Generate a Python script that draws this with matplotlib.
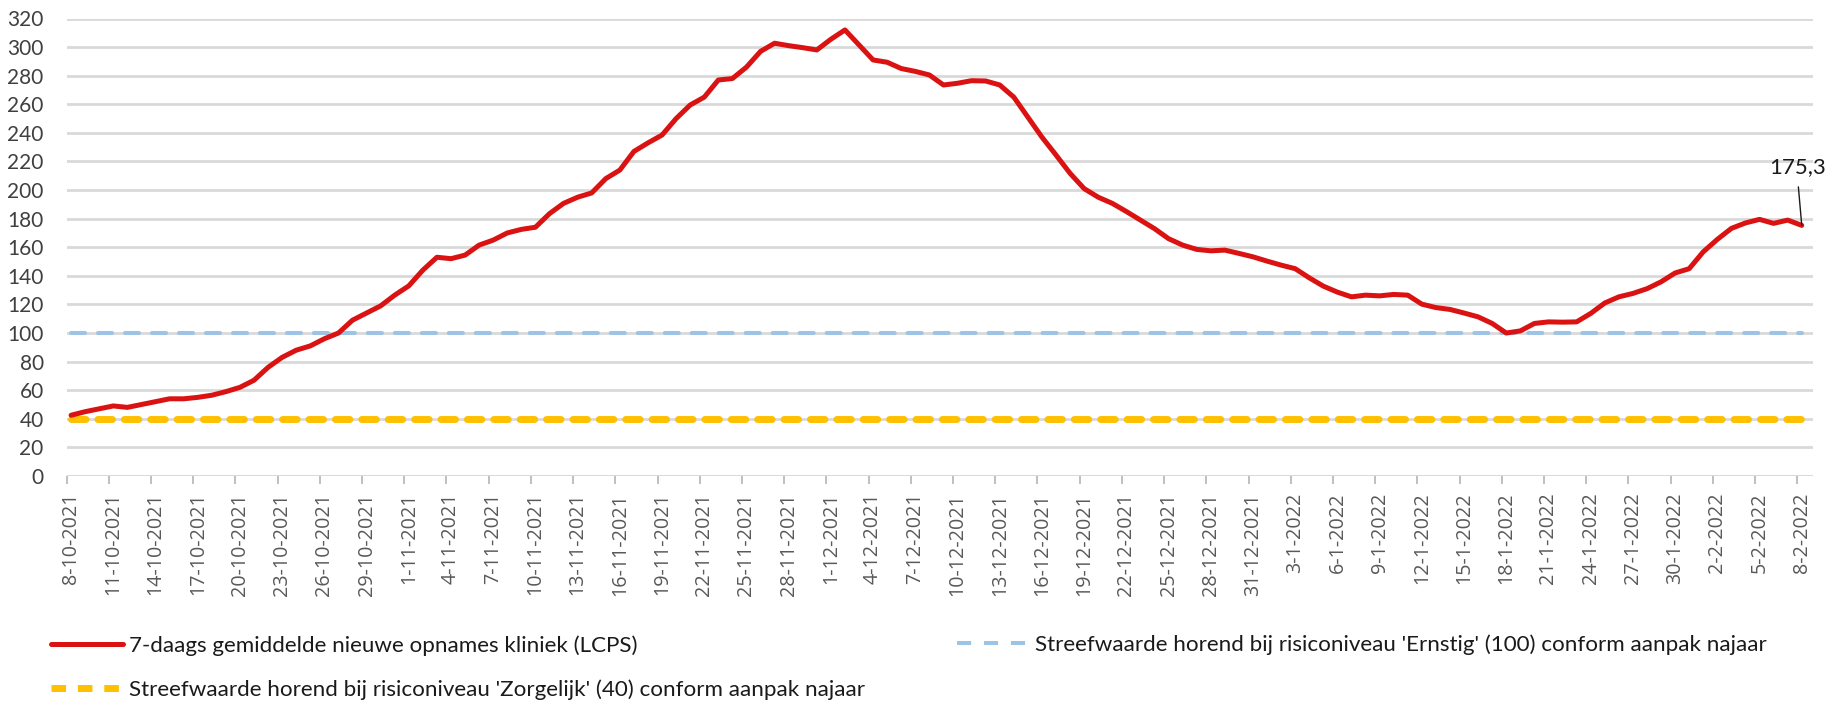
import matplotlib
matplotlib.use("Agg")
import matplotlib.pyplot as plt
import numpy as np

# ---------------- data ----------------
tick_labels = [
    "8-10-2021", "11-10-2021", "14-10-2021", "17-10-2021", "20-10-2021", "23-10-2021",
    "26-10-2021", "29-10-2021", "1-11-2021", "4-11-2021", "7-11-2021", "10-11-2021",
    "13-11-2021", "16-11-2021", "19-11-2021", "22-11-2021", "25-11-2021", "28-11-2021",
    "1-12-2021", "4-12-2021", "7-12-2021", "10-12-2021", "13-12-2021", "16-12-2021",
    "19-12-2021", "22-12-2021", "25-12-2021", "28-12-2021", "31-12-2021", "3-1-2022",
    "6-1-2022", "9-1-2022", "12-1-2022", "15-1-2022", "18-1-2022", "21-1-2022",
    "24-1-2022", "27-1-2022", "30-1-2022", "2-2-2022", "5-2-2022", "8-2-2022",
]

opnames = [
    42.5, 45, 47, 49, 48, 50, 52, 54, 54, 55,
    56.5, 59, 62, 67, 76, 83, 88, 91, 96, 100,
    109, 114, 119, 126.5, 133, 144, 153, 152, 154.5, 161.5,
    165, 170, 172.5, 174, 183.5, 190.7, 195, 198, 208, 214,
    227, 233, 238.5, 250, 259.5, 265, 277, 278, 286, 297,
    302.7, 301, 299.6, 298, 305.5, 312, 301.5, 291, 289.4, 285,
    283, 280.5, 273.5, 274.7, 276.5, 276.3, 273.5, 265, 251, 237,
    224.5, 211.7, 201, 195, 190.7, 185, 179, 173, 166, 161.5,
    158.5, 157.5, 158, 155.7, 153.3, 150.3, 147.5, 145, 138.6, 132.8,
    128.6, 125.3, 126.5, 126, 127, 126.5, 120.2, 117.8, 116.5, 114,
    111.3, 106.7, 100, 101.5, 106.7, 107.8, 107.6, 107.8, 113.7, 121,
    125.3, 127.7, 131, 135.8, 142, 145, 156.8, 165.5, 173.2, 177,
    179.5, 176.7, 179, 175.3,
]

ernstig_level = 100
zorgelijk_level = 40
last_label = "175,3"

label_red = "7-daags gemiddelde nieuwe opnames kliniek (LCPS)"
label_blue = "Streefwaarde horend bij risiconiveau 'Ernstig' (100) conform aanpak najaar"
label_yellow = "Streefwaarde horend bij risiconiveau 'Zorgelijk' (40) conform aanpak najaar"

# ---------------- figure ----------------
W, H = 1848, 710
fig = plt.figure(figsize=(W / 100, H / 100), dpi=100)
fig.patch.set_facecolor("white")

ax_l, ax_r, ax_b, ax_t = 66.6, 1813, 476, 18.5
ax = fig.add_axes([ax_l / W, (H - ax_b) / H, (ax_r - ax_l) / W, (ax_b - ax_t) / H])

x = np.arange(len(opnames))
n = len(opnames)

grid_c = "#D9D9D9"
for s in ax.spines.values():
    s.set_visible(False)
ax.set_ylim(0, 320)
ax.set_xlim(-0.32, n - 1 + 0.8)
ax.set_yticks(np.arange(0, 321, 20))
ax.yaxis.grid(True, color=grid_c, lw=2.0, zorder=0)
ax.set_axisbelow(True)
ax.axhline(0, color=grid_c, lw=2.0, zorder=1)

# reference lines
ax.hlines(ernstig_level, x[0], x[-1], colors="#9DC3E6", lw=2.9,
          linestyles=(0, (3.5, 3.2)), capstyle="round", zorder=2, label=label_blue)
ax.hlines(zorgelijk_level, x[0], x[-1], colors="#FFC000", lw=5.0,
          linestyles=(0, (2.1, 1.7)), capstyle="round", zorder=2, label=label_yellow)

line_red, = ax.plot(x, opnames, color="#DA1212", lw=3.6, solid_joinstyle="round",
                    solid_capstyle="round", zorder=3, label=label_red)

# ticks
label_pos = np.arange(0, n, 3)
ax.set_xticks(label_pos)
ax.set_xticklabels(tick_labels, rotation=90, fontfamily="Open Sans", fontsize=14.2,
                   color="#595959", va="top", ha="center")
ax.tick_params(axis="x", which="major", length=0, pad=12)
ax.set_xticks(label_pos - 0.32, minor=True)
ax.tick_params(axis="x", which="minor", length=6, width=1.4, color="#BFBFBF")
ax.tick_params(axis="y", length=0, pad=16.5, labelsize=15, labelcolor="#404040")
for t in ax.get_yticklabels():
    t.set_fontfamily("Lato")

# annotation of last value
ax.annotate(last_label, xy=(x[-1], opnames[-1]), xytext=(122.7, 216),
            ha="center", va="center", fontsize=16, fontfamily="Lato", color="#1a1a1a",
            arrowprops=dict(arrowstyle="-", color="#1a1a1a", lw=1.0,
                            shrinkA=5, shrinkB=0, relpos=(0.5, 0.0)),
            annotation_clip=False, zorder=5)

# legend (two blocks, placed like the original)
handles, labels = ax.get_legend_handles_labels()
hd = dict(zip(labels, handles))
leg_kw = dict(frameon=False, prop={"family": "Lato", "size": 16.1}, handlelength=3.2,
              handletextpad=0.29, labelspacing=1.05, borderpad=0, borderaxespad=0,
              bbox_transform=fig.transFigure, loc="center left")
leg1 = fig.legend([hd[label_red], hd[label_yellow]], [label_red, label_yellow],
                  bbox_to_anchor=(51 / W, (H - 667.5) / H), **leg_kw)
leg2 = fig.legend([hd[label_blue]], [label_blue],
                  bbox_to_anchor=(957 / W, (H - 645) / H), **leg_kw)
for lg in (leg1, leg2):
    for t in lg.get_texts():
        t.set_color("#1a1a1a")

fig.savefig("out.png", dpi=100, facecolor="white")
